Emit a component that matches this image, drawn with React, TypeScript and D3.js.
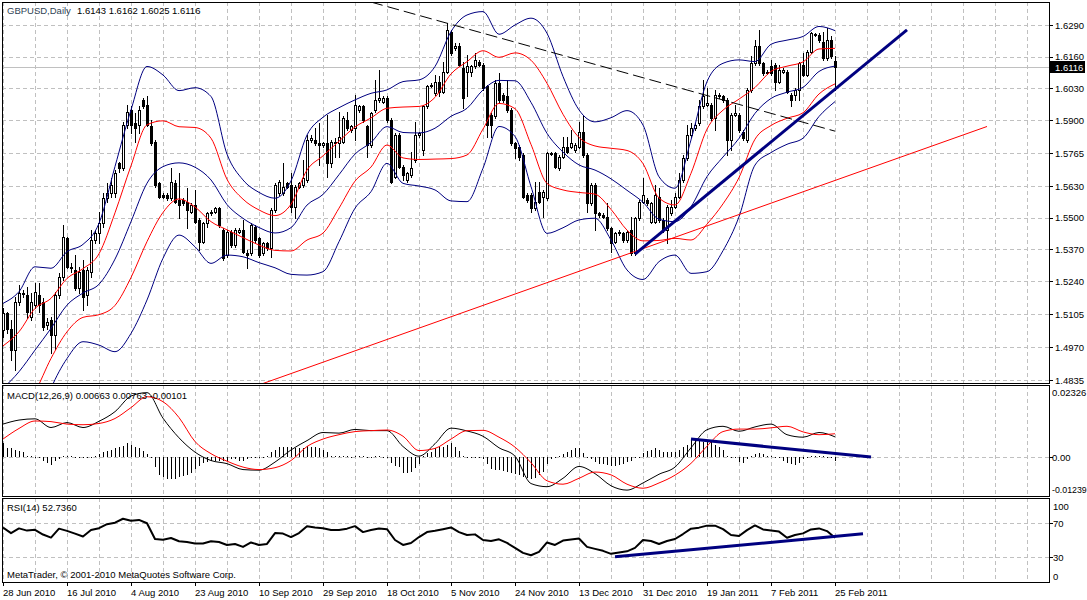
import React, { useEffect, useRef } from 'react';
import * as d3 from 'd3';

const WIDTH = 1087;
const HEIGHT = 600;
const FONT = "Tahoma, 'Liberation Sans', Arial, sans-serif";

// one label every 16 bars, starting at bar 0
const timeLabels = [
  '28 Jun 2010', '16 Jul 2010', '4 Aug 2010', '23 Aug 2010', '10 Sep 2010', '29 Sep 2010', '18 Oct 2010',
  '5 Nov 2010', '24 Nov 2010', '13 Dec 2010', '31 Dec 2010', '19 Jan 2011', '7 Feb 2011', '25 Feb 2011'
];
const priceTicks = [1.6290, 1.6160, 1.6030, 1.5900, 1.5765, 1.5630, 1.5500, 1.5370, 1.5240, 1.5105, 1.4970, 1.4835];
const macdTicks = [0.02326, 0, -0.01239];
const macdTickLabels = ['0.02326', '0.00', '-0.01239'];
const rsiTicks = [100, 70, 30, 0];
const bidPrice = 1.6116;

// daily OHLC, bar 0 = 28 Jun 2010, bar 208 = 25 Feb 2011
const candleOpen = [
  1.5040, 1.5108, 1.5046, 1.4958, 1.5156, 1.5187, 1.5183, 1.5094, 1.5142, 1.5183,
  1.5156, 1.5060, 1.5081, 1.5019, 1.5183, 1.5258, 1.5415, 1.5299, 1.5286, 1.5211,
  1.5286, 1.5183, 1.5279, 1.5409, 1.5436, 1.5477, 1.5580, 1.5600, 1.5600, 1.5723,
  1.5703, 1.5880, 1.5942, 1.5887, 1.5880, 1.5983, 1.5962, 1.5874, 1.5812, 1.5641,
  1.5593, 1.5593, 1.5580, 1.5641, 1.5573, 1.5573, 1.5566, 1.5525, 1.5552, 1.5491,
  1.5402, 1.5477, 1.5518, 1.5525, 1.5539, 1.5450, 1.5347, 1.5443, 1.5388, 1.5443,
  1.5450, 1.5357, 1.5354, 1.5463, 1.5415, 1.5354, 1.5395, 1.5375, 1.5532, 1.5600,
  1.5600, 1.5641, 1.5634, 1.5545, 1.5627, 1.5634, 1.5655, 1.5819, 1.5819, 1.5805,
  1.5798, 1.5805, 1.5723, 1.5812, 1.5805, 1.5812, 1.5901, 1.5860, 1.5867, 1.5942,
  1.5956, 1.5874, 1.5798, 1.5942, 1.5983, 1.5976, 1.5990, 1.5901, 1.5668, 1.5839,
  1.5710, 1.5655, 1.5675, 1.5737, 1.5839, 1.5778, 1.5956, 1.6040, 1.6010, 1.6058,
  1.6017, 1.6099, 1.6263, 1.6195, 1.6202, 1.6113, 1.6099, 1.6099, 1.6120, 1.6140,
  1.6126, 1.6038, 1.5921, 1.5915, 1.6051, 1.6003, 1.5997, 1.5942, 1.5805, 1.5792,
  1.5757, 1.5593, 1.5593, 1.5539, 1.5607, 1.5586, 1.5580, 1.5761, 1.5764, 1.5703,
  1.5750, 1.5792, 1.5792, 1.5778, 1.5792, 1.5853, 1.5757, 1.5559, 1.5634, 1.5518,
  1.5511, 1.5504, 1.5457, 1.5402, 1.5436, 1.5436, 1.5409, 1.5450, 1.5354, 1.5498,
  1.5566, 1.5573, 1.5484, 1.5484, 1.5586, 1.5491, 1.5450, 1.5518, 1.5545, 1.5586,
  1.5655, 1.5744, 1.5839, 1.5867, 1.5887, 1.5956, 1.5962, 1.5962, 1.5908, 1.5997,
  1.5997, 1.5983, 1.5819, 1.5921, 1.5921, 1.5853, 1.5819, 1.6024, 1.6133, 1.6202,
  1.6133, 1.6099, 1.6120, 1.6126, 1.6058, 1.6099, 1.6099, 1.6003, 1.6003, 1.6024,
  1.6126, 1.6085, 1.6181, 1.6249, 1.6249, 1.6222, 1.6154, 1.6229, 1.6143
];
const candleHigh = [
  1.5129, 1.5115, 1.5081, 1.5176, 1.5225, 1.5204, 1.5217, 1.5190, 1.5231, 1.5231,
  1.5170, 1.5088, 1.5094, 1.5197, 1.5272, 1.5470, 1.5422, 1.5313, 1.5347, 1.5299,
  1.5327, 1.5299, 1.5450, 1.5450, 1.5525, 1.5600, 1.5641, 1.5662, 1.5696, 1.5730,
  1.5894, 1.5962, 1.5956, 1.5928, 1.5956, 1.5990, 1.5997, 1.5901, 1.5819, 1.5648,
  1.5600, 1.5600, 1.5703, 1.5655, 1.5682, 1.5580, 1.5621, 1.5559, 1.5614, 1.5498,
  1.5484, 1.5525, 1.5532, 1.5545, 1.5545, 1.5457, 1.5450, 1.5450, 1.5457, 1.5457,
  1.5491, 1.5368, 1.5477, 1.5470, 1.5422, 1.5402, 1.5402, 1.5539, 1.5641, 1.5655,
  1.5723, 1.5648, 1.5682, 1.5634, 1.5648, 1.5737, 1.5839, 1.5839, 1.5867, 1.5887,
  1.5812, 1.5921, 1.5819, 1.5826, 1.5935, 1.5915, 1.5935, 1.5880, 1.6003, 1.5962,
  1.5962, 1.5880, 1.5935, 1.6065, 1.6106, 1.5997, 1.5997, 1.5908, 1.5846, 1.5846,
  1.5716, 1.5689, 1.5771, 1.5894, 1.5853, 1.5962, 1.6044, 1.6051, 1.6085, 1.6079,
  1.6140, 1.6297, 1.6270, 1.6215, 1.6215, 1.6140, 1.6167, 1.6126, 1.6174, 1.6147,
  1.6133, 1.6044, 1.5928, 1.6065, 1.6092, 1.6010, 1.6065, 1.5949, 1.5812, 1.5798,
  1.5764, 1.5600, 1.5600, 1.5648, 1.5648, 1.5614, 1.5771, 1.5771, 1.5771, 1.5757,
  1.5833, 1.5833, 1.5860, 1.5805, 1.5894, 1.5915, 1.5764, 1.5641, 1.5641, 1.5525,
  1.5518, 1.5559, 1.5463, 1.5443, 1.5450, 1.5443, 1.5450, 1.5504, 1.5504, 1.5573,
  1.5662, 1.5580, 1.5566, 1.5634, 1.5621, 1.5498, 1.5552, 1.5573, 1.5600, 1.5682,
  1.5757, 1.5880, 1.5887, 1.5887, 1.5983, 1.6065, 1.6031, 1.5969, 1.6024, 1.6010,
  1.6003, 1.5990, 1.5928, 1.5962, 1.5928, 1.5860, 1.6031, 1.6161, 1.6229, 1.6270,
  1.6140, 1.6106, 1.6147, 1.6133, 1.6126, 1.6113, 1.6106, 1.6010, 1.6031, 1.6140,
  1.6174, 1.6188, 1.6263, 1.6259, 1.6256, 1.6263, 1.6277, 1.6243, 1.6162
];
const candleLow = [
  1.5012, 1.5026, 1.4917, 1.4876, 1.5142, 1.5176, 1.5088, 1.5081, 1.5129, 1.5115,
  1.5040, 1.5046, 1.4944, 1.4964, 1.5170, 1.5245, 1.5293, 1.5279, 1.5204, 1.5190,
  1.5122, 1.5142, 1.5258, 1.5395, 1.5395, 1.5463, 1.5566, 1.5586, 1.5586, 1.5689,
  1.5696, 1.5867, 1.5846, 1.5812, 1.5846, 1.5949, 1.5874, 1.5798, 1.5628, 1.5580,
  1.5580, 1.5573, 1.5573, 1.5559, 1.5498, 1.5552, 1.5457, 1.5518, 1.5477, 1.5368,
  1.5395, 1.5463, 1.5511, 1.5518, 1.5463, 1.5327, 1.5340, 1.5381, 1.5381, 1.5436,
  1.5354, 1.5293, 1.5347, 1.5402, 1.5340, 1.5347, 1.5368, 1.5340, 1.5525, 1.5593,
  1.5593, 1.5621, 1.5525, 1.5498, 1.5621, 1.5627, 1.5648, 1.5812, 1.5798, 1.5716,
  1.5792, 1.5668, 1.5710, 1.5750, 1.5750, 1.5805, 1.5860, 1.5853, 1.5819, 1.5935,
  1.5894, 1.5750, 1.5792, 1.5935, 1.5976, 1.5969, 1.5894, 1.5641, 1.5662, 1.5703,
  1.5655, 1.5648, 1.5668, 1.5730, 1.5833, 1.5757, 1.5949, 1.6035, 1.6003, 1.5997,
  1.6010, 1.6092, 1.6167, 1.6188, 1.6120, 1.5949, 1.5997, 1.6079, 1.6113, 1.6120,
  1.6024, 1.5833, 1.5833, 1.5908, 1.5976, 1.5976, 1.5935, 1.5798, 1.5744, 1.5737,
  1.5580, 1.5566, 1.5525, 1.5532, 1.5559, 1.5504, 1.5573, 1.5757, 1.5703, 1.5696,
  1.5744, 1.5764, 1.5785, 1.5771, 1.5785, 1.5750, 1.5525, 1.5552, 1.5450, 1.5504,
  1.5498, 1.5450, 1.5361, 1.5395, 1.5429, 1.5402, 1.5402, 1.5347, 1.5347, 1.5491,
  1.5559, 1.5552, 1.5477, 1.5477, 1.5484, 1.5443, 1.5395, 1.5511, 1.5539, 1.5580,
  1.5648, 1.5737, 1.5833, 1.5860, 1.5880, 1.5949, 1.5956, 1.5901, 1.5860, 1.5990,
  1.5976, 1.5757, 1.5778, 1.5915, 1.5853, 1.5819, 1.5812, 1.6017, 1.6126, 1.6126,
  1.6085, 1.6090, 1.6085, 1.6024, 1.6051, 1.6092, 1.6010, 1.5956, 1.5983, 1.5983,
  1.6079, 1.6079, 1.6174, 1.6243, 1.6222, 1.6147, 1.6147, 1.6154, 1.6025
];
const candleClose = [
  1.5108, 1.5046, 1.4958, 1.5156, 1.5190, 1.5190, 1.5115, 1.5156, 1.5197, 1.5142,
  1.5053, 1.5074, 1.5019, 1.5183, 1.5258, 1.5422, 1.5299, 1.5293, 1.5211, 1.5279,
  1.5176, 1.5286, 1.5409, 1.5436, 1.5477, 1.5580, 1.5600, 1.5634, 1.5682, 1.5703,
  1.5880, 1.5935, 1.5880, 1.5867, 1.5942, 1.5956, 1.5880, 1.5805, 1.5634, 1.5586,
  1.5586, 1.5580, 1.5648, 1.5566, 1.5552, 1.5559, 1.5532, 1.5552, 1.5484, 1.5402,
  1.5477, 1.5518, 1.5525, 1.5539, 1.5470, 1.5334, 1.5443, 1.5388, 1.5450, 1.5450,
  1.5361, 1.5347, 1.5470, 1.5409, 1.5347, 1.5395, 1.5375, 1.5532, 1.5634, 1.5648,
  1.5627, 1.5627, 1.5545, 1.5627, 1.5641, 1.5662, 1.5819, 1.5826, 1.5805, 1.5798,
  1.5805, 1.5723, 1.5812, 1.5805, 1.5833, 1.5908, 1.5867, 1.5874, 1.5962, 1.5956,
  1.5901, 1.5798, 1.5928, 1.5983, 1.5990, 1.5990, 1.5901, 1.5648, 1.5839, 1.5710,
  1.5675, 1.5682, 1.5703, 1.5839, 1.5846, 1.5956, 1.6038, 1.6044, 1.6058, 1.6017,
  1.6099, 1.6270, 1.6174, 1.6204, 1.6126, 1.5990, 1.6120, 1.6120, 1.6147, 1.6126,
  1.6031, 1.5880, 1.5880, 1.6051, 1.5983, 1.5983, 1.5942, 1.5805, 1.5785, 1.5750,
  1.5586, 1.5573, 1.5539, 1.5566, 1.5566, 1.5607, 1.5764, 1.5764, 1.5710, 1.5750,
  1.5792, 1.5771, 1.5805, 1.5798, 1.5853, 1.5757, 1.5559, 1.5634, 1.5518, 1.5511,
  1.5504, 1.5457, 1.5395, 1.5436, 1.5443, 1.5409, 1.5443, 1.5354, 1.5498, 1.5566,
  1.5593, 1.5559, 1.5559, 1.5593, 1.5491, 1.5450, 1.5545, 1.5545, 1.5586, 1.5655,
  1.5744, 1.5839, 1.5867, 1.5880, 1.5956, 1.5997, 1.5969, 1.5908, 1.6003, 1.6003,
  1.5983, 1.5819, 1.5921, 1.5928, 1.5860, 1.5826, 1.6024, 1.6133, 1.6202, 1.6133,
  1.6092, 1.6095, 1.6092, 1.6058, 1.6106, 1.6106, 1.6017, 1.5983, 1.6024, 1.6133,
  1.6085, 1.6181, 1.6256, 1.6252, 1.6229, 1.6154, 1.6229, 1.6161, 1.6116
];

// Bollinger band (20, 2) outer lines, read every 4 bars
const bandStep = 4;
const bbUpper = [
  1.5149, 1.5197, 1.5299, 1.5293, 1.5361, 1.5391, 1.5477, 1.5710, 1.5942, 1.6120,
  1.6085, 1.6021, 1.6033, 1.5997, 1.5761, 1.5655, 1.5604, 1.5580, 1.5651, 1.5839,
  1.5912, 1.5951, 1.5983, 1.6010, 1.6024, 1.6058, 1.6065, 1.6120, 1.6263, 1.6331,
  1.6345, 1.6252, 1.6290, 1.6318, 1.6256, 1.6079, 1.5942, 1.5893, 1.5910, 1.5939,
  1.5880, 1.5668, 1.5621, 1.5819, 1.6058, 1.6133, 1.6147, 1.6140, 1.6211, 1.6228,
  1.6243, 1.6284, 1.6267
];
const bbLower = [
  1.4452, 1.4541, 1.4616, 1.4800, 1.4923, 1.4992, 1.4978, 1.4951, 1.5026, 1.5163,
  1.5334, 1.5429, 1.5381, 1.5313, 1.5347, 1.5340, 1.5316, 1.5295, 1.5268, 1.5265,
  1.5279, 1.5402, 1.5539, 1.5607, 1.5723, 1.5641, 1.5630, 1.5614, 1.5569, 1.5566,
  1.5703, 1.5874, 1.5833, 1.5628, 1.5436, 1.5459, 1.5491, 1.5498, 1.5409, 1.5286,
  1.5247, 1.5320, 1.5347, 1.5272, 1.5279, 1.5365, 1.5504, 1.5716, 1.5767, 1.5801,
  1.5826, 1.5915, 1.5976
];

// MACD(12,26,9): lines read every 4 bars, histogram per bar
const macdStep = 4;
const macdMain = [
  0.0107, 0.0120, 0.0124, 0.0096, 0.0112, 0.0096, 0.0116, 0.0147, 0.0197, 0.0208,
  0.0126, 0.0063, 0.0017, -0.0010, -0.0020, -0.0039, -0.0041, -0.0015, 0.0024, 0.0054,
  0.0080, 0.0078, 0.0090, 0.0086, 0.0086, 0.0035, 0.0004, 0.0044, 0.0094, 0.0085,
  0.0068, 0.0031, 0.0004, -0.0084, -0.0094, -0.0067, -0.0029, -0.0052, -0.0091, -0.0105,
  -0.0082, -0.0054, -0.0031, 0.0031, 0.0089, 0.0100, 0.0084, 0.0098, 0.0107, 0.0073,
  0.0065, 0.0080, 0.0066
];
const macdSignal = [
  0.0059, 0.0093, 0.0117, 0.0115, 0.0107, 0.0105, 0.0109, 0.0125, 0.0160, 0.0195,
  0.0179, 0.0128, 0.0051, 0.0012, -0.0012, -0.0031, -0.0039, -0.0033, -0.0010, 0.0035,
  0.0059, 0.0073, 0.0083, 0.0086, 0.0088, 0.0068, 0.0022, 0.0029, 0.0059, 0.0086,
  0.0087, 0.0065, 0.0033, -0.0017, -0.0075, -0.0086, -0.0067, -0.0047, -0.0056, -0.0086,
  -0.0099, -0.0082, -0.0057, -0.0019, 0.0036, 0.0083, 0.0091, 0.0091, 0.0095, 0.0100,
  0.0082, 0.0073, 0.0076
];
const macdHist = [
  0.0045, 0.0029, 0.0029, 0.0025, 0.0022, 0.0016, 0.0006, 0.0003, 0, -0.0003,
  -0.0013, -0.0019, -0.0025, -0.0013, -0.0006, 0.0003, 0.0006, 0.0003, 0, 0,
  -0.0003, -0.0003, 0, 0.0003, 0.0010, 0.0019, 0.0022, 0.0025, 0.0029, 0.0032,
  0.0038, 0.0045, 0.0041, 0.0035, 0.0029, 0.0022, 0.0010, 0, -0.0032, -0.0057,
  -0.0064, -0.0070, -0.0070, -0.0070, -0.0064, -0.0060, -0.0057, -0.0051, -0.0038, -0.0029,
  -0.0019, -0.0016, -0.0013, -0.0010, -0.0010, -0.0010, -0.0010, -0.0006, -0.0006, -0.0010,
  -0.0010, -0.0006, -0.0003, -0.0003, -0.0003, -0.0003, 0.0003, 0.0016, 0.0025, 0.0035,
  0.0035, 0.0035, 0.0032, 0.0029, 0.0029, 0.0029, 0.0038, 0.0035, 0.0032, 0.0029,
  0.0025, 0.0019, 0.0006, 0.0003, 0.0003, 0.0003, 0.0003, 0, 0.0003, 0.0003,
  0.0003, -0.0003, 0, 0.0003, 0.0003, 0, 0, -0.0019, -0.0029, -0.0032,
  -0.0051, -0.0051, -0.0048, -0.0035, -0.0022, 0.0003, 0.0013, 0.0019, 0.0029, 0.0032,
  0.0035, 0.0041, 0.0045, 0.0035, 0.0022, 0.0003, 0, 0, -0.0003, -0.0003,
  -0.0006, -0.0022, -0.0038, -0.0041, -0.0041, -0.0045, -0.0048, -0.0051, -0.0054, -0.0057,
  -0.0064, -0.0067, -0.0070, -0.0067, -0.0057, -0.0048, -0.0022, -0.0006, 0, 0.0003,
  0.0010, 0.0019, 0.0025, 0.0029, 0.0029, 0.0013, 0, -0.0006, -0.0016, -0.0022,
  -0.0022, -0.0025, -0.0029, -0.0029, -0.0025, -0.0022, -0.0016, -0.0010, -0.0003, 0,
  0.0013, 0.0022, 0.0025, 0.0029, 0.0025, 0.0019, 0.0016, 0.0016, 0.0019, 0.0025,
  0.0035, 0.0041, 0.0057, 0.0057, 0.0054, 0.0048, 0.0054, 0.0048, 0.0041, 0.0032,
  0.0025, 0.0006, 0, -0.0003, -0.0016, -0.0019, -0.0006, 0.0003, 0.0010, 0.0013,
  0.0010, 0.0003, 0.0003, 0, -0.0003, -0.0013, -0.0019, -0.0022, -0.0025, -0.0019,
  -0.0006, 0, 0.0003, 0.0003, 0.0003, 0.0003, 0, -0.0003, -0.0010
];

// RSI(14), read every 2 bars
const rsiStep = 2;
const rsiValues = [
  64.9, 58.2, 63.8, 61.2, 62.1, 56.5, 52.9, 63.5, 60.9, 57.6,
  54.1, 61.8, 64.1, 68.8, 70.6, 75.3, 72.9, 73.9, 70.0, 51.2,
  50.4, 52.4, 48.5, 47.6, 45.9, 45.9, 48.5, 47.6, 44.1, 45.3,
  41.8, 47.1, 44.1, 45.3, 58.2, 57.6, 53.5, 58.2, 66.5, 64.9,
  64.1, 61.8, 61.8, 63.5, 66.5, 59.4, 61.8, 63.8, 62.9, 50.0,
  44.1, 46.5, 53.5, 59.4, 60.9, 62.9, 65.0, 59.4, 55.9, 56.7,
  50.0, 48.8, 50.8, 46.5, 40.6, 34.7, 31.8, 35.9, 47.1, 44.1,
  49.4, 50.6, 51.8, 41.8, 39.4, 37.1, 33.5, 35.1, 36.5, 40.6,
  50.0, 48.8, 45.3, 48.8, 51.2, 57.1, 63.5, 64.7, 67.1, 67.1,
  62.9, 55.9, 54.7, 61.8, 67.3, 62.6, 61.4, 60.0, 52.7, 55.9,
  57.9, 62.6, 63.8, 60.6, 52.7
];

// hand-drawn trend lines: [bar, value] end points
const dashedResistance = [[92, 1.6384], [208, 1.5855]];
const longSupport = [[63, 1.4809], [246, 1.5874]];
const steepSupport = [[158, 1.5351], [226, 1.6270]];
const macdTrend = [[172, 0.0059], [217, 0.0001]];
const rsiTrend = [[153, 30.0], [215, 57.4]];

const App = () => {
  const svgRef = useRef<SVGSVGElement>(null);

  useEffect(() => {
    const svg = d3.select(svgRef.current);
    svg.selectAll('*').remove();

    const L = 2;
    const R = 1049;
    const main = { id: 'main', top: 2, bottom: 383 };
    const macd = { id: 'macd', top: 385, bottom: 496 };
    const rsi = { id: 'rsi', top: 498, bottom: 582 };
    const panels = [main, macd, rsi];
    const crisp = (v: number) => Math.round(v) + 0.5;

    const x = d3.scaleLinear().domain([0, 208]).range([3, 835]);
    const yPrice = d3.scaleLinear().domain([1.4835, 1.6290]).range([380, 25]);
    const yMacd = d3.scaleLinear().domain([-0.01239, 0.02326]).range([496, 385]);
    const yRsi = d3.scaleLinear().domain([0, 100]).range([582, 498]);

    svg.append('rect').attr('width', WIDTH).attr('height', HEIGHT).attr('fill', '#ffffff');

    const defs = svg.append('defs');
    panels.forEach(p => {
      defs.append('clipPath').attr('id', `clip-${p.id}`)
        .append('rect')
        .attr('x', L + 1).attr('y', p.top + 1)
        .attr('width', R - L - 1).attr('height', p.bottom - p.top - 1);
    });

    // Grid
    const grid = svg.append('g')
      .attr('stroke', '#c0c0c0')
      .attr('stroke-dasharray', '4,3')
      .attr('shape-rendering', 'crispEdges');
    const gridBars = d3.range(0, 257, 8);
    panels.forEach(p => {
      gridBars.forEach(b => {
        grid.append('line')
          .attr('x1', crisp(x(b))).attr('x2', crisp(x(b)))
          .attr('y1', p.top).attr('y2', p.bottom);
      });
    });
    const hGrid = (y: number) => grid.append('line')
      .attr('x1', L).attr('x2', R).attr('y1', crisp(y)).attr('y2', crisp(y));
    priceTicks.forEach(v => hGrid(yPrice(v)));
    hGrid(yMacd(0));
    hGrid(yRsi(70));
    hGrid(yRsi(30));

    // Bid line
    svg.append('line')
      .attr('x1', L).attr('x2', R)
      .attr('y1', crisp(yPrice(bidPrice))).attr('y2', crisp(yPrice(bidPrice)))
      .attr('stroke', '#c0c0c0')
      .attr('shape-rendering', 'crispEdges');

    // Main chart: candles
    const gMain = svg.append('g').attr('clip-path', 'url(#clip-main)');
    const gCandles = gMain.append('g').attr('shape-rendering', 'crispEdges');
    candleOpen.forEach((o, i) => {
      const c = candleClose[i];
      const p = Math.round(x(i));
      gCandles.append('line')
        .attr('x1', p + 0.5).attr('x2', p + 0.5)
        .attr('y1', Math.round(yPrice(candleHigh[i])))
        .attr('y2', Math.round(yPrice(candleLow[i])) + 1)
        .attr('stroke', '#000');
      const top = Math.round(yPrice(Math.max(o, c)));
      const bot = Math.round(yPrice(Math.min(o, c)));
      if (bot - top < 1) {
        gCandles.append('line')
          .attr('x1', p - 1).attr('x2', p + 2)
          .attr('y1', top + 0.5).attr('y2', top + 0.5)
          .attr('stroke', '#000');
      } else if (c > o) {
        gCandles.append('rect')
          .attr('x', p - 0.5).attr('y', top + 0.5)
          .attr('width', 2).attr('height', bot - top)
          .attr('fill', '#fff').attr('stroke', '#000');
      } else {
        gCandles.append('rect')
          .attr('x', p - 1).attr('y', top)
          .attr('width', 3).attr('height', bot - top + 1)
          .attr('fill', '#000');
      }
    });

    // Bollinger bands
    const bands = bbUpper.map((u, k) => {
      const l = bbLower[k];
      const mid = (u + l) / 2;
      const sd = (u - l) / 4;
      return { bar: k * bandStep, u, l, mid, up1: mid + sd, dn1: mid - sd };
    });
    const bandLine = (key: string) => d3.line<any>()
      .x(d => x(d.bar))
      .y(d => yPrice(d[key]))
      .curve(d3.curveMonotoneX);
    [['u', '#000080'], ['mid', '#000080'], ['l', '#000080'], ['up1', '#ff0000'], ['dn1', '#ff0000']]
      .forEach(([key, color]) => {
        gMain.append('path')
          .datum(bands)
          .attr('d', bandLine(key))
          .attr('fill', 'none')
          .attr('stroke', color)
          .attr('stroke-width', 1);
      });

    // Trend lines
    const segment = (g: any, pts: number[][], yScale: any, color: string, width: number, dash?: string) => {
      const ln = g.append('line')
        .attr('x1', x(pts[0][0])).attr('y1', yScale(pts[0][1]))
        .attr('x2', x(pts[1][0])).attr('y2', yScale(pts[1][1]))
        .attr('stroke', color)
        .attr('stroke-width', width);
      if (dash) ln.attr('stroke-dasharray', dash);
    };
    segment(gMain, dashedResistance, yPrice, '#000000', 1, '12,5');
    segment(gMain, longSupport, yPrice, '#ff0000', 1);
    segment(gMain, steepSupport, yPrice, '#000080', 3);

    // MACD panel
    const gMacd = svg.append('g').attr('clip-path', 'url(#clip-macd)');
    const y0 = Math.round(yMacd(0));
    const gHist = gMacd.append('g').attr('shape-rendering', 'crispEdges');
    macdHist.forEach((v, i) => {
      const p = Math.round(x(i)) + 0.5;
      let yv = Math.round(yMacd(v));
      if (Math.abs(yv - y0) < 1) yv = y0 + 1;
      gHist.append('line')
        .attr('x1', p).attr('x2', p)
        .attr('y1', Math.min(y0, yv)).attr('y2', Math.max(y0, yv))
        .attr('stroke', '#000');
    });
    const macdLine = (arr: number[]) => d3.line<number>()
      .x((_, k) => x(k * macdStep))
      .y(d => yMacd(d))
      .curve(d3.curveMonotoneX)(arr);
    gMacd.append('path').attr('d', macdLine(macdMain)).attr('fill', 'none').attr('stroke', '#000').attr('stroke-width', 1);
    gMacd.append('path').attr('d', macdLine(macdSignal)).attr('fill', 'none').attr('stroke', '#ff0000').attr('stroke-width', 1);
    segment(gMacd, macdTrend, yMacd, '#000080', 3);

    // RSI panel
    const gRsi = svg.append('g').attr('clip-path', 'url(#clip-rsi)');
    const rsiLine = d3.line<number>()
      .x((_, k) => x(k * rsiStep))
      .y(d => yRsi(d));
    gRsi.append('path').attr('d', rsiLine(rsiValues))
      .attr('fill', 'none').attr('stroke', '#000').attr('stroke-width', 2)
      .attr('stroke-linejoin', 'round');
    segment(gRsi, rsiTrend, yRsi, '#000080', 3);

    // Panel borders
    panels.forEach(p => {
      svg.append('rect')
        .attr('x', L + 0.5).attr('y', p.top + 0.5)
        .attr('width', R - L).attr('height', p.bottom - p.top)
        .attr('fill', 'none').attr('stroke', '#000')
        .attr('shape-rendering', 'crispEdges');
    });

    // Axes
    const axis = svg.append('g')
      .attr('font-family', FONT)
      .attr('font-size', '9.5px')
      .attr('fill', '#000');
    const ticks = svg.append('g').attr('stroke', '#000').attr('shape-rendering', 'crispEdges');

    priceTicks.forEach(v => {
      const y = yPrice(v);
      ticks.append('line').attr('x1', R).attr('x2', R + 4).attr('y1', crisp(y)).attr('y2', crisp(y));
      axis.append('text').attr('x', 1055).attr('y', y + 3.5).text(v.toFixed(4));
    });
    const macdLabelY = [396, yMacd(0) + 3.5, 493];
    macdTicks.forEach((v, k) => {
      axis.append('text')
        .attr('x', 1052)
        .attr('y', macdLabelY[k])
        .attr('font-size', v < 0 ? '8.8px' : null)
        .text(macdTickLabels[k]);
    });
    ticks.append('line').attr('x1', R).attr('x2', R + 4).attr('y1', crisp(yMacd(0))).attr('y2', crisp(yMacd(0)));
    const rsiLabelY = [509.5, yRsi(70) + 4, yRsi(30) + 4, 580];
    rsiTicks.forEach((v, k) => {
      axis.append('text').attr('x', 1053).attr('y', rsiLabelY[k]).text(String(v));
    });
    [70, 30].forEach(v => {
      ticks.append('line').attr('x1', R).attr('x2', R + 4).attr('y1', crisp(yRsi(v))).attr('y2', crisp(yRsi(v)));
    });

    timeLabels.forEach((label, k) => {
      const xx = x(k * 16);
      ticks.append('line').attr('x1', crisp(xx)).attr('x2', crisp(xx)).attr('y1', rsi.bottom).attr('y2', rsi.bottom + 4);
      axis.append('text').attr('x', xx).attr('y', 596).text(label);
    });

    // Bid label
    const bidY = yPrice(bidPrice);
    svg.append('rect')
      .attr('x', 1050).attr('y', Math.round(bidY) - 6)
      .attr('width', 35).attr('height', 12)
      .attr('fill', '#000');
    svg.append('text')
      .attr('x', 1055).attr('y', bidY + 3.5)
      .attr('font-family', FONT).attr('font-size', '9.5px')
      .attr('fill', '#fff')
      .text(bidPrice.toFixed(4));

    // Titles
    const titles = svg.append('g').attr('font-family', FONT).attr('font-size', '9.5px');
    titles.append('text').attr('x', 7).attr('y', 14).attr('fill', '#2f3f55').text('GBPUSD,Daily');
    titles.append('text').attr('x', 77).attr('y', 14).attr('fill', '#000')
      .text(`${candleOpen[208].toFixed(4)} ${candleHigh[208].toFixed(4)} ${candleLow[208].toFixed(4)} ${candleClose[208].toFixed(4)}`);
    titles.append('text').attr('x', 7).attr('y', 398.5).attr('fill', '#000')
      .text('MACD(12,26,9) 0.00663 0.00763 -0.00101');
    titles.append('text').attr('x', 7).attr('y', 511).attr('fill', '#000')
      .text('RSI(14) 52.7360');
    titles.append('text').attr('x', 7).attr('y', 578).attr('fill', '#000')
      .text('MetaTrader, \u00a9 2001-2010 MetaQuotes Software Corp.');
  }, []);

  return (
    <div style={{ position: 'absolute', left: 0, top: 0 }}>
      <svg ref={svgRef} width={WIDTH} height={HEIGHT} style={{ display: 'block' }} />
    </div>
  );
};

export default App;
